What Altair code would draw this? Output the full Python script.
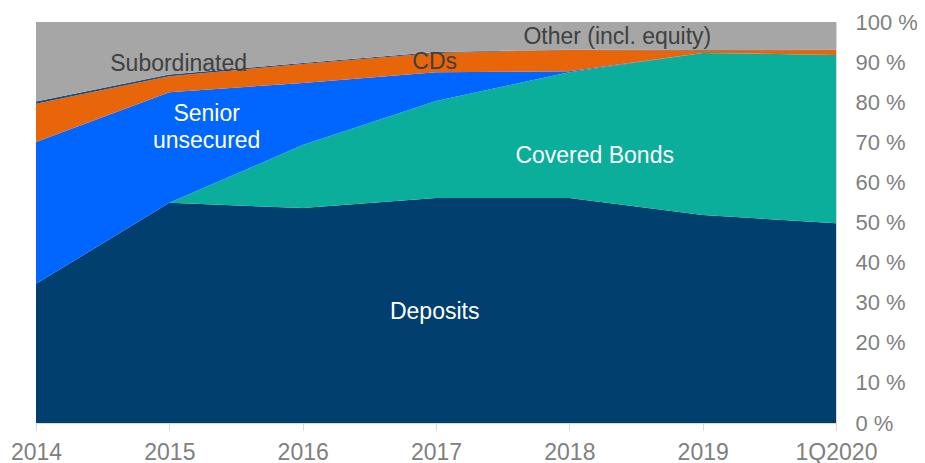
import altair as alt
import pandas as pd

periods = ["2014", "2015", "2016", "2017", "2018", "2019", "1Q2020"]
series = ["Deposits", "Covered Bonds", "Senior unsecured", "CDs", "Subordinated", "Other (incl. equity)"]
colors = ["#003F6E", "#0AAE9A", "#0066FF", "#E8650A", "#1F4E79", "#A6A6A6"]

deposits = [34.7, 54.9, 53.6, 56.1, 56.1, 51.9, 49.8]
covered = [0.0, 0.0, 15.7, 24.2, 31.4, 40.4, 42.0]
senior = [35.4, 27.6, 15.5, 7.2, 0.2, 0.0, 0.0]
cds = [9.5, 4.0, 4.7, 4.8, 5.3, 0.6, 1.2]
subordinated = [0.6, 0.4, 0.3, 0.2, 0.1, 0.1, 0.1]
other = [19.8, 13.1, 10.2, 7.5, 6.9, 7.0, 6.9]

# annotation labels: text, x position (period index), y value (%), colour
ann_text = ["Subordinated", "Senior", "unsecured", "CDs", "Other (incl. equity)", "Covered Bonds", "Deposits"]
ann_x = [1.07, 1.28, 1.28, 2.99, 4.36, 4.19, 2.99]
ann_y = [89.6, 77.0, 70.3, 90.0, 96.3, 66.5, 27.6]
ann_color = ["#404040", "#FFFFFF", "#FFFFFF", "#404040", "#404040", "#FFFFFF", "#FFFFFF"]

rows = []
for s_i, (name, vals) in enumerate(zip(series, [deposits, covered, senior, cds, subordinated, other])):
    for p_i, v in enumerate(vals):
        rows.append({"idx": p_i, "series": name, "value": v, "order": s_i})
df = pd.DataFrame(rows)

ann = pd.DataFrame({"text": ann_text, "x": ann_x, "y": ann_y, "color": ann_color})

label_array = "[" + ",".join("'" + p + "'" for p in periods) + "]"

x_axis = alt.Axis(
    values=list(range(len(periods))),
    labelExpr=label_array + "[datum.value]",
    title=None,
    grid=False,
    domainColor="#D9D9D9",
    tickColor="#D9D9D9",
    tickSize=7,
    labelPadding=11,
    labelFontSize=23,
    labelColor="#808080",
    labelFont="Liberation Sans",
    labelFlush=False,
)
y_axis = alt.Axis(
    orient="right",
    values=list(range(0, 101, 10)),
    labelExpr="datum.value + ' %'",
    title=None,
    grid=False,
    domain=False,
    ticks=False,
    labelPadding=19,
    labelFontSize=22,
    labelColor="#808080",
    labelFont="Liberation Sans",
)

areas = alt.Chart(df).mark_area(opacity=1).encode(
    x=alt.X("idx:Q", scale=alt.Scale(domain=[0, len(periods) - 1], nice=False, zero=False), axis=x_axis),
    y=alt.Y("value:Q", stack="zero", scale=alt.Scale(domain=[0, 100], nice=False), axis=y_axis),
    color=alt.Color("series:N", scale=alt.Scale(domain=series, range=colors), legend=None),
    order=alt.Order("order:Q"),
)

labels = alt.Chart(ann).mark_text(font="Liberation Sans", fontSize=23, align="center", baseline="middle").encode(
    x=alt.X("x:Q"),
    y=alt.Y("y:Q"),
    text="text:N",
    color=alt.Color("color:N", scale=None),
)

chart = alt.layer(areas, labels).properties(
    width=800,
    height=401,
    autosize=alt.AutoSizeParams(type="none"),
    padding={"left": 28, "top": 14, "right": 81, "bottom": 40},
).configure_view(stroke="#D9D9D9", strokeWidth=1)

chart.save("out.html", embed_options={"renderer": "svg", "actions": False})
